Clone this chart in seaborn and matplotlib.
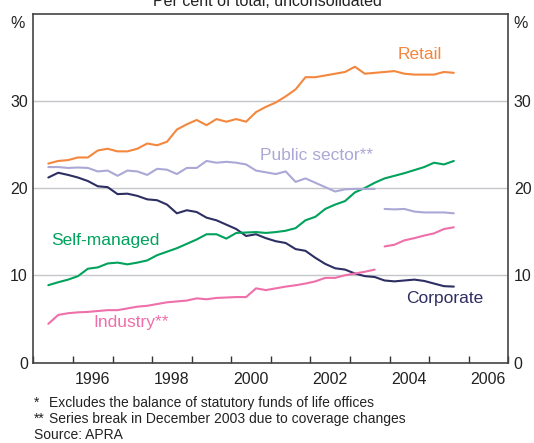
import matplotlib
matplotlib.use("Agg")
import matplotlib.pyplot as plt
from matplotlib.ticker import FixedLocator, NullFormatter, FixedFormatter
import seaborn as sns
import numpy as np
import pandas as pd

# quarterly, Jun 1995 to Sep 2005 (plotted at mid-quarter)
quarters = pd.period_range("1995Q2", "2005Q3", freq="Q")

retail = [22.8, 23.1, 23.2, 23.5, 23.5, 24.3, 24.5, 24.2, 24.2, 24.5,
          25.1, 24.9, 25.3, 26.7, 27.3, 27.8, 27.2, 27.9, 27.6, 27.9,
          27.6, 28.7, 29.3, 29.8, 30.5, 31.3, 32.7, 32.7, 32.9, 33.1,
          33.3, 33.9, 33.1, 33.2, 33.3, 33.4, 33.1, 33.0, 33.0, 33.0,
          33.3, 33.2]
corporate = [21.2, 21.75, 21.5, 21.2, 20.8, 20.2, 20.1, 19.3, 19.35, 19.1,
             18.7, 18.6, 18.1, 17.1, 17.45, 17.25, 16.6, 16.3, 15.8, 15.3,
             14.5, 14.7, 14.25, 13.9, 13.7, 13.0, 12.8, 12.0, 11.3, 10.8,
             10.65, 10.2, 9.9, 9.8, 9.4, 9.3, 9.4, 9.5, 9.35, 9.05,
             8.75, 8.7]
self_managed = [8.86, 9.2, 9.5, 9.9, 10.75, 10.9, 11.35, 11.45, 11.25, 11.45,
                11.7, 12.3, 12.7, 13.1, 13.6, 14.1, 14.7, 14.7, 14.2, 14.85,
                14.9, 14.95, 14.85, 14.95, 15.1, 15.4, 16.3, 16.7, 17.6, 18.1,
                18.5, 19.5, 20.0, 20.6, 21.1, 21.4, 21.7, 22.05, 22.4, 22.9,
                22.7, 23.1]
# series break in December 2003: old basis to Sep 2003, new basis from Dec 2003
public_old = [22.4, 22.4, 22.3, 22.35, 22.3, 21.9, 22.0, 21.4, 22.0, 21.9,
              21.5, 22.2, 22.1, 21.6, 22.3, 22.3, 23.1, 22.9, 23.0, 22.9,
              22.7, 22.0, 21.8, 21.6, 21.9, 20.7, 21.1, 20.6, 20.1, 19.6,
              19.85, 19.9, 19.9, 19.9]
public_new = [17.6, 17.55, 17.6, 17.3, 17.2, 17.2, 17.2, 17.1]
industry_old = [4.43, 5.45, 5.65, 5.75, 5.8, 5.9, 6.0, 6.0, 6.2, 6.4,
                6.5, 6.7, 6.9, 7.0, 7.1, 7.35, 7.25, 7.4, 7.45, 7.5,
                7.5, 8.5, 8.3, 8.5, 8.7, 8.85, 9.05, 9.3, 9.7, 9.7,
                10.0, 10.2, 10.4, 10.65]
industry_new = [13.3, 13.5, 14.0, 14.25, 14.55, 14.8, 15.3, 15.5]

colors = {
    "Retail": "#F4873E",
    "Public sector**": "#ABA8D6",
    "Corporate": "#2D2E62",
    "Self-managed": "#00A25C",
    "Industry**": "#EF6FAA",
}

t = quarters.year + (quarters.quarter - 0.5) / 4
n_old = len(public_old)

rows = []
def add(name, seg, xs, vals):
    for xv, v in zip(xs, vals):
        rows.append({"date": xv, "share": v, "series": name, "seg": seg})

add("Retail", 0, t, retail)
add("Corporate", 0, t, corporate)
add("Self-managed", 0, t, self_managed)
add("Public sector**", 0, t[:n_old], public_old)
add("Public sector**", 1, t[n_old:], public_new)
add("Industry**", 0, t[:n_old], industry_old)
add("Industry**", 1, t[n_old:], industry_new)
df = pd.DataFrame(rows)

sns.set_style("white")
plt.rcParams["font.family"] = ["Liberation Sans", "DejaVu Sans"]

fig = plt.figure(figsize=(5.34, 4.43), dpi=100)
ax = fig.add_axes([0.0627, 0.1817, 0.889, 0.7878])

sns.lineplot(data=df, x="date", y="share", hue="series", units="seg",
             estimator=None, palette=colors, linewidth=1.5, legend=False, ax=ax)

ax.set_xlim(1995, 2007)
ax.set_ylim(0, 40)
ax.set_xlabel("")
ax.set_ylabel("")

ax.set_yticks([0, 10, 20, 30])
ax.yaxis.grid(True, color="#C3C6CB", linewidth=1.0)
ax.set_axisbelow(True)
ax.tick_params(axis="y", length=0, labelsize=11.5, labelcolor="#222222",
               labelleft=True, labelright=True, pad=4)

ax.xaxis.set_major_locator(FixedLocator(np.arange(1995, 2008)))
ax.xaxis.set_major_formatter(NullFormatter())
label_years = np.arange(1996, 2007, 2)
ax.xaxis.set_minor_locator(FixedLocator(label_years + 0.5))
ax.xaxis.set_minor_formatter(FixedFormatter([str(y) for y in label_years]))
ax.tick_params(axis="x", which="major", direction="in", length=5,
               width=1.0, color="#333333", bottom=True)
ax.tick_params(axis="x", which="minor", length=0, labelsize=11.5,
               labelcolor="#222222", pad=6.5)

for s in ax.spines.values():
    s.set_color("#444444")
    s.set_linewidth(1.2)

# series labels
ax.text(2004.77, 35.3, "Retail", color=colors["Retail"], fontsize=12.5,
        ha="center", va="center")
ax.text(2002.16, 23.7, "Public sector**", color=colors["Public sector**"],
        fontsize=12.5, ha="center", va="center")
ax.text(1996.81, 13.96, "Self-managed", color=colors["Self-managed"],
        fontsize=12.5, ha="center", va="center")
ax.text(1997.48, 4.63, "Industry**", color=colors["Industry**"],
        fontsize=12.5, ha="center", va="center")
ax.text(2005.39, 7.38, "Corporate", color=colors["Corporate"], fontsize=12.5,
        ha="center", va="center")

# % unit labels and clipped title
fig.text(18 / 534, 1 - 23 / 443, "%", fontsize=11.5, ha="center", va="center",
         color="#222222")
fig.text(521 / 534, 1 - 23 / 443, "%", fontsize=11.5, ha="center", va="center",
         color="#222222")
fig.text(0.5, 1 - 6 / 443, "Per cent of total, unconsolidated", fontsize=11.5,
         ha="center", va="baseline", color="#222222")

# footnotes
foot = dict(fontsize=10, va="center", color="#222222")
fig.text(34 / 534, 1 - 403 / 443, "*", **foot)
fig.text(49 / 534, 1 - 403 / 443,
         "Excludes the balance of statutory funds of life offices", **foot)
fig.text(34 / 534, 1 - 419 / 443, "**", **foot)
fig.text(49 / 534, 1 - 419 / 443,
         "Series break in December 2003 due to coverage changes", **foot)
fig.text(34 / 534, 1 - 435 / 443, "Source: APRA", **foot)

fig.savefig("out.png", dpi=100)
